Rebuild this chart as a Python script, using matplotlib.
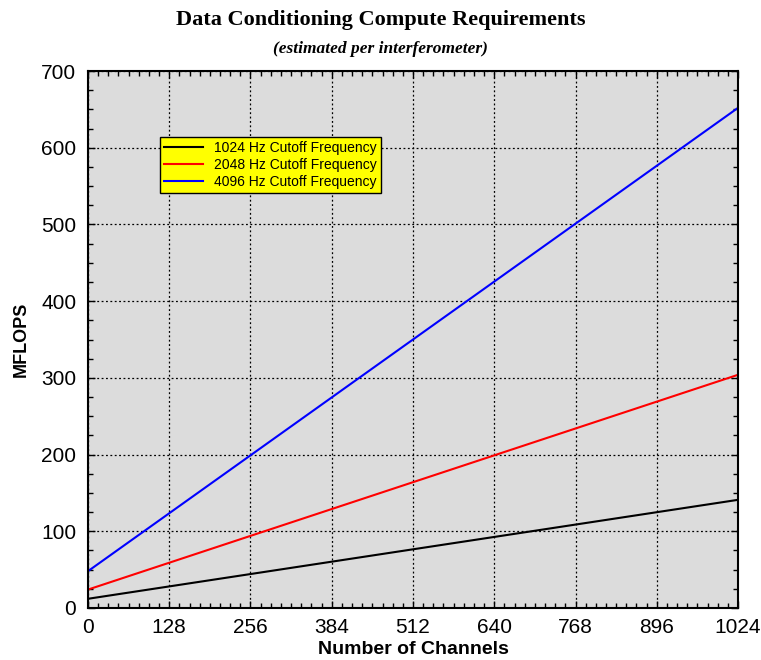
import matplotlib.pyplot as plt
from matplotlib.ticker import MultipleLocator

# datos
channels = [0, 1024]
mflops_1024 = [12, 141]
mflops_2048 = [24, 304]
mflops_4096 = [48, 652]
series_labels = ['1024 Hz Cutoff Frequency', '2048 Hz Cutoff Frequency', '4096 Hz Cutoff Frequency']
series_colors = ['black', 'red', 'blue']

plt.rcParams['font.family'] = ['Liberation Sans', 'DejaVu Sans']

fig = plt.figure(figsize=(7.61, 6.6), dpi=100)
ax = fig.add_axes([0.1156, 0.0788, 0.8542, 0.8136])
ax.set_facecolor('#dcdcdc')

for vals, lab, col in zip([mflops_1024, mflops_2048, mflops_4096], series_labels, series_colors):
    ax.plot(channels, vals, color=col, lw=1.5, label=lab)

ax.set_xlim(0, 1024)
ax.set_ylim(0, 700)
ax.xaxis.set_major_locator(MultipleLocator(128))
ax.xaxis.set_minor_locator(MultipleLocator(16))
ax.yaxis.set_major_locator(MultipleLocator(100))
ax.yaxis.set_minor_locator(MultipleLocator(25))
ax.tick_params(which='both', direction='in', top=True, right=True, labelsize=15, color='black')
ax.tick_params(which='major', length=5, width=1)
ax.tick_params(which='minor', length=3.5, width=1)
ax.tick_params(axis='x', pad=7)
ax.tick_params(axis='y', pad=8.5)
ax.grid(True, which='major', color='black', linestyle=(0, (1.5, 2)), linewidth=0.9)
for s in ax.spines.values():
    s.set_linewidth(1.5)

ax.set_xlabel('Number of Channels', fontsize=14, fontweight='bold', labelpad=3)
ax.set_ylabel('MFLOPS', fontsize=13, fontweight='bold', labelpad=8)

fig.text(0.5, 0.97, 'Data Conditioning Compute Requirements', ha='center', va='center',
         family='Liberation Serif', fontsize=16, fontweight='bold')
fig.text(0.5, 0.926, '(estimated per interferometer)', ha='center', va='center',
         family='Liberation Serif', fontsize=12.5, fontweight='bold', style='italic')

leg = ax.legend(loc='upper left', bbox_to_anchor=(0.111, 0.877), fontsize=10,
                frameon=True, fancybox=False, borderpad=0.3, labelspacing=0.2,
                handlelength=2.8, handletextpad=0.8, borderaxespad=0)
leg.get_frame().set_facecolor('yellow')
leg.get_frame().set_edgecolor('black')
leg.get_frame().set_alpha(1)
leg.get_frame().set_linewidth(1.0)

fig.savefig('out.png', dpi=100)
